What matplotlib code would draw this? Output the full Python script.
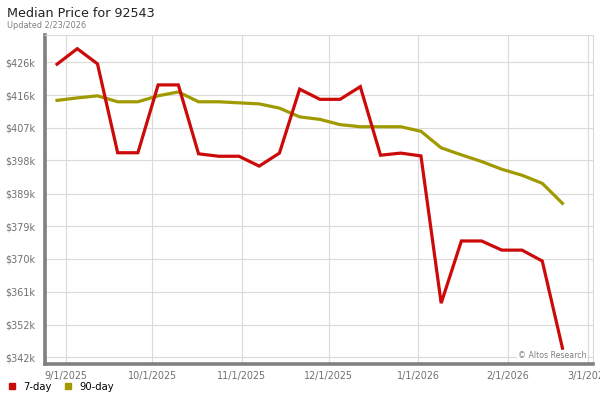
import numpy as np
import pandas as pd
import matplotlib
matplotlib.use('Agg')
import matplotlib.pyplot as plt
from matplotlib.lines import Line2D

# Weekly dates (Fridays)
dates = pd.to_datetime([
    '2025-08-29', '2025-09-05', '2025-09-12', '2025-09-19', '2025-09-26',
    '2025-10-03', '2025-10-10', '2025-10-17', '2025-10-24', '2025-10-31',
    '2025-11-07', '2025-11-14', '2025-11-21', '2025-11-28', '2025-12-05',
    '2025-12-12', '2025-12-19', '2025-12-26', '2026-01-02', '2026-01-09',
    '2026-01-16', '2026-01-23', '2026-01-30', '2026-02-06', '2026-02-13',
    '2026-02-20'])

# Median price, thousands of dollars
day7 = [425.7, 430.1, 425.8, 400.5, 400.5, 419.8, 419.8, 400.2, 399.5, 399.5,
        396.7, 400.4, 418.6, 415.7, 415.7, 419.3, 399.8, 400.4, 399.6, 357.7,
        375.4, 375.4, 372.8, 372.8, 369.7, 344.9]
day90 = [415.4, 416.1, 416.7, 415.0, 415.0, 416.7, 417.8, 415.0, 415.0, 414.7,
         414.4, 413.2, 410.7, 410.0, 408.5, 407.9, 407.9, 407.9, 406.6, 401.9,
         399.9, 398.0, 395.8, 394.1, 391.8, 386.1]

y_tick_vals = [342.3, 351.6, 360.9, 370.3, 379.6, 388.9, 398.3, 407.6, 416.9, 426.3]
y_tick_labels = ['$342k', '$352k', '$361k', '$370k', '$379k', '$389k',
                 '$398k', '$407k', '$416k', '$426k']
x_tick_dates = pd.to_datetime(['2025-09-01', '2025-10-01', '2025-11-01', '2025-12-01',
                               '2026-01-01', '2026-02-01', '2026-03-01'])
x_tick_labels = ['9/1/2025', '10/1/2025', '11/1/2025', '12/1/2025',
                 '1/1/2026', '2/1/2026', '3/1/2026']

red = '#cc0a0a'
olive = '#a09a00'
grid_c = '#dadada'
txt_c = '#707070'

fig = plt.figure(figsize=(6, 4), dpi=100)
ax = fig.add_axes([0.075, 0.09, 0.913, 0.8225])

ax.plot(dates, day90, color=olive, lw=2.3, solid_joinstyle='miter', zorder=3)
ax.plot(dates, day7, color=red, lw=2.3, solid_joinstyle='miter', zorder=4)

ax.set_ylim(340.4, 434.0)
ax.set_xlim(pd.Timestamp('2025-08-24 20:00'), pd.Timestamp('2026-03-02 12:00'))

ax.set_yticks(y_tick_vals)
ax.set_yticklabels(y_tick_labels)
ax.set_xticks(x_tick_dates)
ax.set_xticklabels(x_tick_labels)
ax.tick_params(length=0, labelsize=6.9, labelcolor=txt_c)
ax.tick_params(axis='y', pad=7)
ax.tick_params(axis='x', pad=5)

ax.grid(True, color=grid_c, lw=0.8)
ax.set_axisbelow(True)

for s in ['left', 'bottom']:
    ax.spines[s].set_color('#808080')
    ax.spines[s].set_linewidth(2.6)
for s in ['top', 'right']:
    ax.spines[s].set_color(grid_c)
    ax.spines[s].set_linewidth(0.8)

# watermark
ax.text(0.988, 0.025, '\u00a9 Altos Research', transform=ax.transAxes,
        ha='right', va='center', fontsize=5.7, color='#808080',
        bbox=dict(facecolor='white', edgecolor='none', pad=0.8), zorder=5)

# title
fig.text(0.011, 0.966, 'Median Price for 92543', fontsize=9.2, color='#222222',
         ha='left', va='center')
fig.text(0.011, 0.937, 'Updated 2/23/2026', fontsize=5.9, color='#808080',
         ha='left', va='center')

handles = [Line2D([], [], marker='s', ls='none', color=red, markersize=4.5),
           Line2D([], [], marker='s', ls='none', color=olive, markersize=4.5)]
fig.legend(handles, ['7-day', '90-day'], loc='center left',
           bbox_to_anchor=(0.003, 0.033), ncol=2, frameon=False, fontsize=7.2,
           handlelength=0.8, handletextpad=0.7, columnspacing=1.3,
           borderaxespad=0.2)

fig.savefig('out.png', dpi=100)
